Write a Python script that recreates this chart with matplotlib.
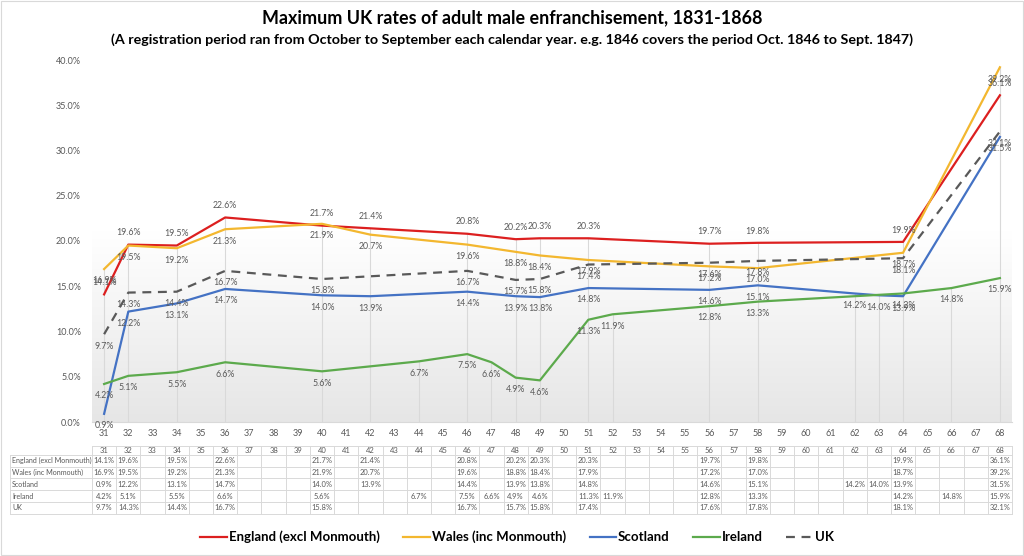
import numpy as np
import matplotlib
matplotlib.use("Agg")
import matplotlib.pyplot as plt
import matplotlib.transforms as mtransforms
from matplotlib.colors import LinearSegmentedColormap
from matplotlib.lines import Line2D

plt.rcParams['font.family'] = ['Lato', 'DejaVu Sans']

nan = np.nan
years = list(range(31, 69))

# values in %, nan where no registration figure
england = [14.1, 19.6, nan, 19.5, nan, 22.6, nan, nan, nan, 21.7, nan, 21.4, nan, nan, nan, 20.8, nan, 20.2, 20.3,
           nan, 20.3, nan, nan, nan, nan, 19.7, nan, 19.8, nan, nan, nan, nan, nan, 19.9, nan, nan, nan, 36.1]
wales = [16.9, 19.5, nan, 19.2, nan, 21.3, nan, nan, nan, 21.9, nan, 20.7, nan, nan, nan, 19.6, nan, 18.8, 18.4,
         nan, 17.9, nan, nan, nan, nan, 17.2, nan, 17.0, nan, nan, nan, nan, nan, 18.7, nan, nan, nan, 39.2]
scotland = [0.9, 12.2, nan, 13.1, nan, 14.7, nan, nan, nan, 14.0, nan, 13.9, nan, nan, nan, 14.4, nan, 13.9, 13.8,
            nan, 14.8, nan, nan, nan, nan, 14.6, nan, 15.1, nan, nan, nan, 14.2, 14.0, 13.9, nan, nan, nan, 31.5]
ireland = [4.2, 5.1, nan, 5.5, nan, 6.6, nan, nan, nan, 5.6, nan, nan, nan, 6.7, nan, 7.5, 6.6, 4.9, 4.6,
           nan, 11.3, 11.9, nan, nan, nan, 12.8, nan, 13.3, nan, nan, nan, nan, nan, 14.2, nan, 14.8, nan, 15.9]
uk = [9.7, 14.3, nan, 14.4, nan, 16.7, nan, nan, nan, 15.8, nan, nan, nan, nan, nan, 16.7, nan, 15.7, 15.8,
      nan, 17.4, nan, nan, nan, nan, 17.6, nan, 17.8, nan, nan, nan, nan, nan, 18.1, nan, nan, nan, 32.1]

names = ["England (excl Monmouth)", "Wales (inc Monmouth)", "Scotland", "Ireland", "UK"]
series = [england, wales, scotland, ireland, uk]
colors = ["#dc1f1f", "#f3b72f", "#4472c4", "#5caa4c", "#595959"]
styles = ["-", "-", "-", "-", (0, (4, 3))]
label_side = [1, -1, -1, -1, -1]  # England labels above, the rest below

W, H = 1024, 556
fig = plt.figure(figsize=(W / 100, H / 100), dpi=100)
ax = fig.add_axes([92 / W, 1 - 422 / H, (1012 - 92) / W, (422 - 60) / H])

x = np.array(years, dtype=float)
ax.set_xlim(30.5, 68.5)

# background gradient
grad = LinearSegmentedColormap.from_list("g", ["#ffffff", "#ffffff", "#e6e6e6"])
ax.imshow(np.linspace(0, 1, 256).reshape(-1, 1), cmap=grad, aspect="auto",
          extent=[30.5, 68.5, 0, 42], origin="upper", zorder=0, clip_on=False)
ax.set_ylim(0, 40)

# drop lines
data = np.array(series)
for i, yr in enumerate(years):
    col = data[:, i]
    if np.all(np.isnan(col)):
        continue
    ax.vlines(yr, 0, np.nanmax(col), color="#d9d9d9", lw=0.8, zorder=1)

text_col = "#595959"
for vals, name, c, ls, side in zip(series, names, colors, styles, label_side):
    v = np.array(vals)
    m = ~np.isnan(v)
    ax.plot(x[m], v[m], color=c, lw=1.6, ls=ls, zorder=3, label=name)
    for xi, yi in zip(x[m], v[m]):
        ax.annotate(f"{yi:.1f}%", (xi, yi), xytext=(0, 8.5 * side), textcoords="offset points",
                    ha="center", va="center", fontsize=6.3, color=text_col, zorder=4,
                    annotation_clip=False)

ax.set_yticks(np.arange(0, 41, 5))
ax.set_yticklabels([f"{t:.1f}%" for t in np.arange(0, 41, 5)])
ax.set_xticks(years)
ax.set_xticklabels([str(y) for y in years])
ax.tick_params(axis="both", length=0, labelsize=6.5, labelcolor=text_col)
ax.tick_params(axis="y", pad=8)
ax.tick_params(axis="x", pad=5)
for s in ["top", "right", "left"]:
    ax.spines[s].set_visible(False)
ax.spines["bottom"].set_color("#d9d9d9")

# data table under the chart
bt = mtransforms.blended_transform_factory(ax.transData, fig.transFigure)
grid_c = "#d9d9d9"
rows_px = [446, 454.8, 466.6, 478.4, 490.2, 502, 514]
fy = [1 - r / H for r in rows_px]
xl = ax.transData.inverted().transform((10, 0))[0]
for k, yy in enumerate(fy):
    x0 = 30.5 if k == 0 else xl
    ax.plot([x0, 68.5], [yy, yy], transform=bt, color=grid_c, lw=0.7, clip_on=False)
for xb in np.arange(30.5, 69.0, 1.0):
    ax.plot([xb, xb], [fy[0], fy[-1]], transform=bt, color=grid_c, lw=0.7, clip_on=False)
ax.plot([xl, xl], [fy[1], fy[-1]], transform=bt, color=grid_c, lw=0.7, clip_on=False)

for yr in years:
    ax.text(yr, (fy[0] + fy[1]) / 2, str(yr), transform=bt, ha="center", va="center",
            fontsize=5.5, color=text_col)
for r, (vals, name) in enumerate(zip(series, names)):
    yc = (fy[r + 1] + fy[r + 2]) / 2
    fig.text(12 / W, yc, name, ha="left", va="center", fontsize=5.1, color=text_col)
    for yr, v in zip(years, vals):
        if not np.isnan(v):
            ax.text(yr, yc, f"{v:.1f}%", transform=bt, ha="center", va="center",
                    fontsize=5.4, color=text_col)

# legend
handles = [Line2D([0], [0], color=c, lw=1.6, ls=ls) for c, ls in zip(colors, styles)]
fig.legend(handles, names, loc="center", bbox_to_anchor=(0.505, 1 - 537 / H), ncol=5,
           frameon=False, handlelength=2.0, columnspacing=1.8, handletextpad=0.15,
           prop={"weight": "bold", "size": 9.5})

fig.text(0.5, 1 - 18 / H, "Maximum UK rates of adult male enfranchisement, 1831-1868",
         ha="center", va="center", fontsize=12.9, fontweight="bold", color="#000000")
fig.text(0.5, 1 - 40 / H,
         "(A registration period ran from October to September each calendar year. e.g. 1846 covers the period Oct. 1846 to Sept. 1847)",
         ha="center", va="center", fontsize=10.3, fontweight="bold", color="#000000")

fig.patches.append(plt.Rectangle((0.001, 0.001), 0.998, 0.998, transform=fig.transFigure,
                                 fill=False, edgecolor="#d9d9d9", lw=0.8))

fig.savefig("out.png", dpi=100)
